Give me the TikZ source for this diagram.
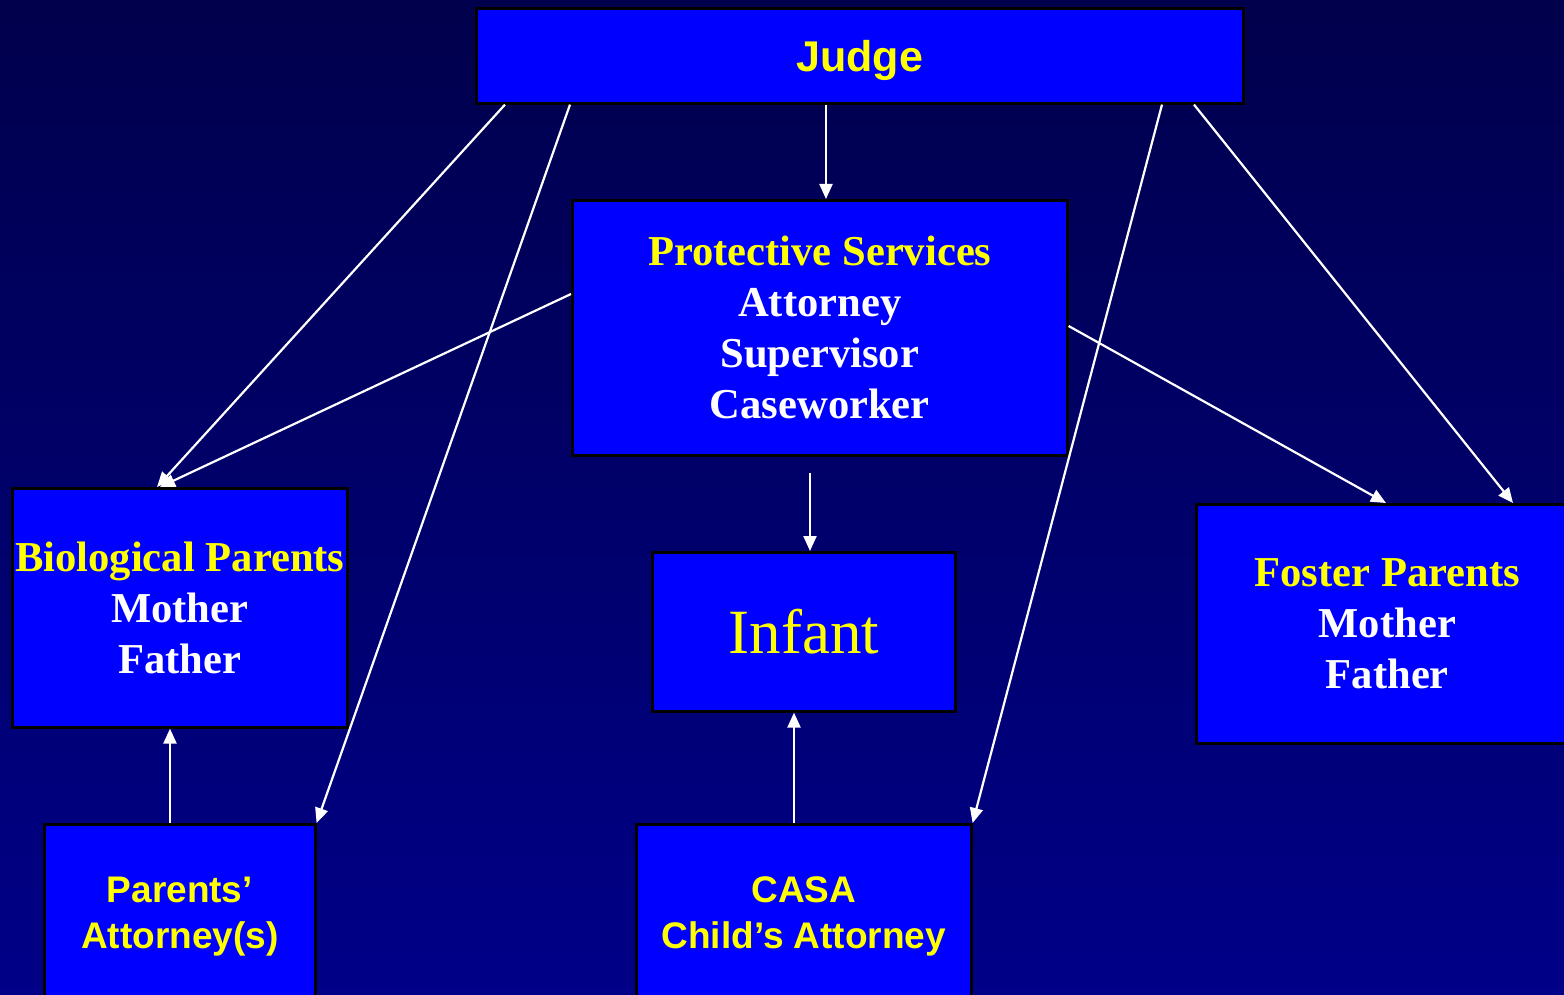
\documentclass[tikz,border=0pt]{standalone}
\usepackage{fontspec}
\setmainfont{Liberation Serif}
\newfontfamily\arialfont{Liberation Sans}
\usetikzlibrary{arrows.meta,calc}
\definecolor{bgtop}{HTML}{00004C}
\definecolor{bgbottom}{HTML}{000088}
\definecolor{boxblue}{HTML}{0000FF}
\definecolor{labelyellow}{HTML}{FFFF00}
\tikzset{
  box/.style={draw=black, line width=1.3pt, fill=boxblue, rectangle,
    inner sep=0pt, anchor=north west, align=center},
  serifbold/.style={font=\fontsize{21.3}{25.5}\selectfont\bfseries},
  sansbold/.style={font=\arialfont\fontsize{18.5}{23}\selectfont\bfseries, text=labelyellow},
  link/.style={draw=white, line width=1.1pt, -{Triangle[length=7.5pt,width=6.5pt]}},
}
\newcommand{\yl}[1]{\textcolor{labelyellow}{#1}}
\newcommand{\wh}[1]{\textcolor{white}{#1}}
\begin{document}
\begin{tikzpicture}[x=0.5pt, y=-0.5pt]
  \useasboundingbox (0,0) rectangle (1564,995);
  \clip (0,0) rectangle (1564,995);
  \shade[top color=bgtop, bottom color=bgbottom] (0,0) rectangle (1564,995);

  % boxes
  \node[box, sansbold, minimum width=383.5pt, minimum height=47.5pt, text depth=0pt,
        font=\arialfont\fontsize{21.5}{25}\selectfont\bfseries] (judge) at (475,7) {Judge};
  \node[box, serifbold, minimum width=247.5pt, minimum height=127.5pt] (prot) at (571,199)
    {\yl{Protective Services}\\ \wh{Attorney}\\ \wh{Supervisor}\\ \wh{Caseworker}};
  \node[box, serifbold, minimum width=167.5pt, minimum height=119.5pt] (bio) at (11,487)
    {\yl{Biological Parents}\\ \wh{Mother}\\ \wh{Father}};
  \node[box, minimum width=151.5pt, minimum height=79.5pt, text=labelyellow,
        font=\fontsize{31.5}{36}\selectfont] (infant) at (651,551) {Infant};
  \node[box, serifbold, minimum width=191pt, minimum height=119.5pt] (foster) at (1195,503)
    {\yl{Foster Parents}\\ \wh{Mother}\\ \wh{Father}};
  \node[box, sansbold, minimum width=135.5pt, minimum height=92pt] (pa) at (43,823)
    {Parents’\\ Attorney(s)};
  \node[box, sansbold, minimum width=167.5pt, minimum height=92pt] (casa) at (635,823)
    {CASA\\ Child’s Attorney};

  % free start of the link down to the infant
  \coordinate (protbelow) at ($(prot.south west)+(239,16)$);

  % connectors
  \draw[link] ($(judge.south west)+(30,0)$) -- ($(bio.north west)+(146,0)$);
  \draw[link] ($(prot.north west)+(0,95)$) -- ($(bio.north west)+(149,0)$);
  \draw[link] ($(judge.south west)+(95,0)$) -- (pa.north east);
  \draw[link] ($(judge.south west)+(351,0)$) -- ($(prot.north west)+(255,0)$);
  \draw[link] (protbelow) -- ($(infant.north west)+(159,0)$);
  \draw[link] ($(pa.north west)+(127,0)$) -- ($(bio.south west)+(159,0)$);
  \draw[link] ($(casa.north west)+(159,0)$) -- ($(infant.south west)+(143,0)$);
  \draw[link] ($(judge.south west)+(687,0)$) -- (casa.north east);
  \draw[link] ($(judge.south west)+(719,0)$) -- ($(foster.north west)+(318,0)$);
  \draw[link] ($(prot.north east)+(0,127)$) -- ($(foster.north west)+(191,0)$);
\end{tikzpicture}
\end{document}
